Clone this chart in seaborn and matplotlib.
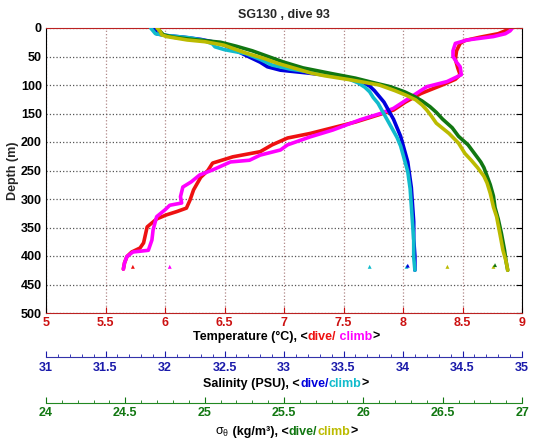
import numpy as np
import pandas as pd
import matplotlib
matplotlib.use("Agg")
import matplotlib.pyplot as plt
from matplotlib.ticker import MultipleLocator, FuncFormatter
import seaborn as sns

# --- profile data ---
temp_dive_depth = [0, 4, 10, 16, 22, 27, 40, 55, 70, 82, 90, 100, 115, 130, 144, 152, 165, 185, 193, 205,
                   217, 226, 237, 250, 262, 284, 302, 316, 322, 328, 335, 349, 377, 386, 393, 401, 412, 423]
temp_dive = [8.88, 8.87, 8.8, 8.65, 8.52, 8.48, 8.45, 8.44, 8.46, 8.48, 8.44, 8.33, 8.15, 8.02, 7.92, 7.8, 7.6, 7.22, 7.03, 6.9,
             6.8, 6.57, 6.4, 6.36, 6.3, 6.24, 6.21, 6.18, 6.1, 6.01, 5.93, 5.85, 5.82, 5.79, 5.72, 5.68, 5.66, 5.65]
temp_climb_depth = [0, 5, 10, 15, 21, 27, 40, 50, 60, 68, 82, 94, 103, 126, 141, 150, 161, 179, 191, 205,
                    214, 223, 232, 235, 249, 258, 270, 279, 296, 307, 311, 319, 331, 354, 372, 390, 393, 401, 412, 423]
temp_climb = [8.92, 8.9, 8.86, 8.76, 8.54, 8.44, 8.42, 8.42, 8.45, 8.48, 8.49, 8.37, 8.2, 8.03, 7.92, 7.81, 7.64, 7.41, 7.22, 7.03,
              6.97, 6.8, 6.71, 6.55, 6.4, 6.29, 6.22, 6.15, 6.13, 6.14, 6.04, 6.0, 5.93, 5.9, 5.89, 5.86, 5.73, 5.68, 5.66, 5.65]

sal_dive_depth = [0, 5, 10, 13, 16, 20, 25, 30, 40, 50, 60, 68, 74, 79, 85, 90, 95, 102, 110, 120,
                  130, 145, 160, 175, 190, 205, 220, 235, 250, 280, 310, 340, 370, 400, 425]
sal_dive = [31.9, 31.92, 31.93, 32.0, 32.15, 32.3, 32.42, 32.5, 32.6, 32.7, 32.8, 32.86, 32.97, 33.2, 33.45, 33.58, 33.66, 33.72, 33.76, 33.8,
            33.84, 33.88, 33.92, 33.95, 33.98, 34.0, 34.02, 34.04, 34.05, 34.07, 34.08, 34.09, 34.09, 34.1, 34.1]
sal_climb_depth = [0, 5, 10, 13, 17, 22, 28, 33, 38, 45, 55, 65, 72, 78, 84, 90, 96, 104, 112, 122,
                   132, 147, 162, 177, 192, 207, 222, 237, 252, 282, 312, 342, 372, 402, 425]
sal_climb = [31.88, 31.9, 31.92, 32.0, 32.2, 32.33, 32.4, 32.42, 32.5, 32.68, 32.8, 32.9, 33.05, 33.25, 33.45, 33.55, 33.62, 33.68, 33.72, 33.75,
             33.79, 33.83, 33.87, 33.91, 33.95, 33.98, 34.0, 34.02, 34.04, 34.06, 34.07, 34.08, 34.09, 34.09, 34.1]

sig_dive_depth = [0, 6, 12, 16, 20, 25, 32, 40, 50, 60, 70, 80, 88, 95, 103, 112, 120, 128, 138, 148,
                  160, 175, 190, 205, 220, 235, 245, 260, 275, 295, 315, 335, 360, 390, 410, 425]
sig_dive = [24.7, 24.72, 24.74, 24.8, 24.92, 25.1, 25.2, 25.3, 25.4, 25.5, 25.62, 25.8, 25.95, 26.05, 26.17, 26.26, 26.32, 26.37, 26.42, 26.46,
            26.5, 26.56, 26.6, 26.66, 26.7, 26.74, 26.76, 26.78, 26.8, 26.82, 26.83, 26.85, 26.87, 26.89, 26.9, 26.91]
sig_climb_depth = [0, 6, 12, 15, 21, 24, 30, 44, 53, 62, 79, 84, 91, 100, 110, 118, 126, 135, 144, 155,
                   167, 185, 202, 220, 232, 245, 260, 272, 290, 314, 331, 360, 390, 410, 425]
sig_climb = [24.7, 24.72, 24.73, 24.76, 24.89, 25.0, 25.12, 25.26, 25.37, 25.46, 25.67, 25.76, 25.92, 26.1, 26.2, 26.27, 26.33, 26.37, 26.4, 26.43,
             26.46, 26.54, 26.6, 26.64, 26.68, 26.72, 26.76, 26.78, 26.8, 26.82, 26.84, 26.86, 26.88, 26.9, 26.91]

# stray samples near the bottom of the dive
temp_stray = [5.73, 6.04]
temp_stray_depth = [419, 419]
sal_stray = [33.72, 34.03, 34.04]
sal_stray_depth = [419, 419, 417]
sig_stray = [26.53, 26.82, 26.83]
sig_stray_depth = [419, 419, 416]

C_TEMP = ["#ee1111", "#ff00ff"]
C_SAL = ["#0000dd", "#11bbcc"]
C_SIG = ["#117711", "#bbbb00"]

sns.set_style("white")
plt.rcParams["font.family"] = ["Liberation Sans", "DejaVu Sans"]
plt.rcParams["font.size"] = 9
plt.rcParams["font.weight"] = "bold"

W, H = 535, 442
fig = plt.figure(figsize=(W / 100, H / 100), dpi=100)
ax = fig.add_axes([46 / W, 1 - 313 / H, 476 / W, 285 / H])


def profile(axis, x, depth, color):
    df = pd.DataFrame({"x": x, "depth": depth})
    sns.lineplot(data=df, x="x", y="depth", ax=axis, sort=False, estimator=None,
                 color=color, lw=2.6, solid_capstyle="round")


# temperature on the main axes
profile(ax, temp_dive, temp_dive_depth, C_TEMP[0])
profile(ax, temp_climb, temp_climb_depth, C_TEMP[1])
sns.scatterplot(x=temp_stray, y=temp_stray_depth, ax=ax, hue=[0, 1], palette=C_TEMP,
                marker="^", s=8, linewidth=0, legend=False)

ax.set_xlim(5, 9)
ax.set_ylim(500, 0)
ax.xaxis.set_major_locator(MultipleLocator(0.5))
ax.yaxis.set_major_locator(MultipleLocator(50))
ax.xaxis.set_major_formatter(FuncFormatter(lambda v, p: f"{v:g}"))
ax.tick_params(axis="x", colors="#cc1111", direction="in", length=4, top=True, pad=3, labelsize=9)
ax.tick_params(axis="y", colors="black", direction="in", length=4, right=True, pad=3, labelsize=9)
for lab in ax.get_xticklabels() + ax.get_yticklabels():
    lab.set_fontweight("bold")
ax.xaxis.grid(True, linestyle=":", color="#b08888", lw=0.9)
ax.yaxis.grid(True, linestyle=":", color="#555555", lw=0.9)
ax.spines["bottom"].set_color("#bb2222")
ax.spines["top"].set_color("#bb2222")
ax.spines["left"].set_color("black")
ax.spines["right"].set_color("black")
ax.set_xlabel("")
ax.set_ylabel("Depth (m)", fontweight="bold", fontsize=9, labelpad=1)
ax.set_title("SG130 , dive 93", fontweight="bold", fontsize=9, pad=7)


def extra_axis(lim, offset, color, tickcolor):
    a = ax.twiny()
    a.set_xlim(*lim)
    a.xaxis.set_ticks_position("bottom")
    a.xaxis.set_label_position("bottom")
    for s in ["top", "left", "right"]:
        a.spines[s].set_visible(False)
    a.spines["bottom"].set_position(("outward", offset))
    a.spines["bottom"].set_color(color)
    a.xaxis.set_major_locator(MultipleLocator(0.5))
    a.xaxis.set_minor_locator(MultipleLocator(0.1))
    a.xaxis.set_major_formatter(FuncFormatter(lambda v, p: f"{v:g}"))
    a.tick_params(axis="x", which="major", direction="in", length=4, colors=tickcolor, pad=3, labelsize=9)
    a.tick_params(axis="x", which="minor", direction="in", length=2, colors=tickcolor)
    for lab in a.get_xticklabels():
        lab.set_fontweight("bold")
    a.set_xlabel("")
    a.set_ylabel("")
    return a


ax_s = extra_axis((31, 35), 32, "#3333aa", "#1a1aaa")
profile(ax_s, sal_dive, sal_dive_depth, C_SAL[0])
profile(ax_s, sal_climb, sal_climb_depth, C_SAL[1])
sns.scatterplot(x=sal_stray, y=sal_stray_depth, ax=ax_s, hue=[1, 1, 0], palette=C_SAL,
                marker="^", s=8, linewidth=0, legend=False)
ax_s.set_xlabel("")
ax_s.set_ylim(500, 0)

ax_g = extra_axis((24, 27), 65, "#228822", "#117711")
profile(ax_g, sig_dive, sig_dive_depth, C_SIG[0])
profile(ax_g, sig_climb, sig_climb_depth, C_SIG[1])
sns.scatterplot(x=sig_stray, y=sig_stray_depth, ax=ax_g, hue=[1, 1, 0], palette=C_SIG,
                marker="^", s=8, linewidth=0, legend=False)
ax_g.set_xlabel("")
ax_g.set_ylim(500, 0)


def color_label(y_px, parts):
    renderer = fig.canvas.get_renderer()
    texts = []
    for s, c, wt in parts:
        t = fig.text(0, 1 - y_px / H, s, color=c, fontsize=9, fontweight=wt,
                     ha="left", va="center", math_fontfamily="stix")
        texts.append(t)
    widths = [t.get_window_extent(renderer).width for t in texts]
    x0 = 286 - sum(widths) / 2
    for t, w in zip(texts, widths):
        t.set_x(x0 / W)
        x0 += w


color_label(337, [("Temperature (°C), <", "black", "bold"), ("dive/", C_TEMP[0], "bold"),
                  (" climb", C_TEMP[1], "bold"), (">", "black", "bold")])
color_label(384, [("Salinity (PSU), <", "black", "bold"), ("dive/", C_SAL[0], "bold"),
                  ("climb", C_SAL[1], "bold"), (">", "black", "bold")])
color_label(432, [(r"$\mathregular{\sigma_\theta}$", "black", "normal"), (" (kg/m³), <", "black", "bold"),
                  ("dive/", C_SIG[0], "bold"), ("climb", C_SIG[1], "bold"), (">", "black", "bold")])

fig.savefig("out.png", dpi=100)
